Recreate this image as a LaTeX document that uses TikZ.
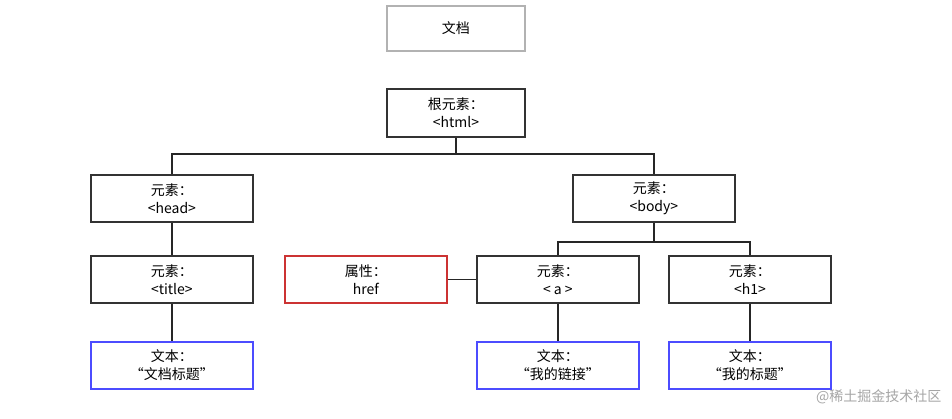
\documentclass[tikz,border=0pt]{standalone}
\usepackage{fontspec}
\setmainfont{Noto Sans CJK SC}
\begin{document}
\begin{tikzpicture}[x=1pt,y=-1pt,
  bx/.style={draw=#1,line width=1.8pt,minimum width=162pt,minimum height=47pt,align=center,inner sep=0pt,font=\fontsize{14}{18}\selectfont,anchor=north west},
  ln/.style={line width=1.7pt,draw=black!85}]
\useasboundingbox (0,0) rectangle (952,418);
\fill[white] (0,0) rectangle (952,418);
\node[bx=gray!60,minimum width=138pt,minimum height=45pt] (doc) at (386,5) {文档};
\node[bx=black!80,minimum width=138pt,minimum height=48pt] (html) at (386,88) {根元素：\\<html>};
\node[bx=black!80] (head) at (90,174) {元素：\\<head>};
\node[bx=black!80] (body) at (572,174) {元素：\\<body>};
\node[bx=black!80] (title) at (90,255) {元素：\\<title>};
\node[bx=red!75!black!80] (href) at (284,255) {属性：\\href};
\node[bx=black!80] (a) at (476,255) {元素：\\< a >};
\node[bx=black!80] (h1) at (668,255) {元素：\\<h1>};
\node[bx=blue!70] (t1) at (90,341) {文本：\\“文档标题”};
\node[bx=blue!70] (t2) at (476,341) {文本：\\“我的链接”};
\node[bx=blue!70] (t3) at (668,341) {文本：\\“我的标题”};
\draw[ln] (html.south) -- ++(0,16) coordinate (j1);
\draw[ln] (head.north) |- (j1) -| (body.north);
\draw[ln] (body.south) -- ++(0,19) coordinate (j2);
\draw[ln] (a.north) |- (j2) -| (h1.north);
\draw[ln] (href.east) -- (a.west);
\draw[ln] (head) -- (title);
\draw[ln] (title) -- (t1);
\draw[ln] (a) -- (t2);
\draw[ln] (h1) -- (t3);
\node[text=gray!70,font=\fontsize{14}{16}\selectfont,anchor=east] (wm) at (945,397) {@稀土掘金技术社区};
\end{tikzpicture}
\end{document}
